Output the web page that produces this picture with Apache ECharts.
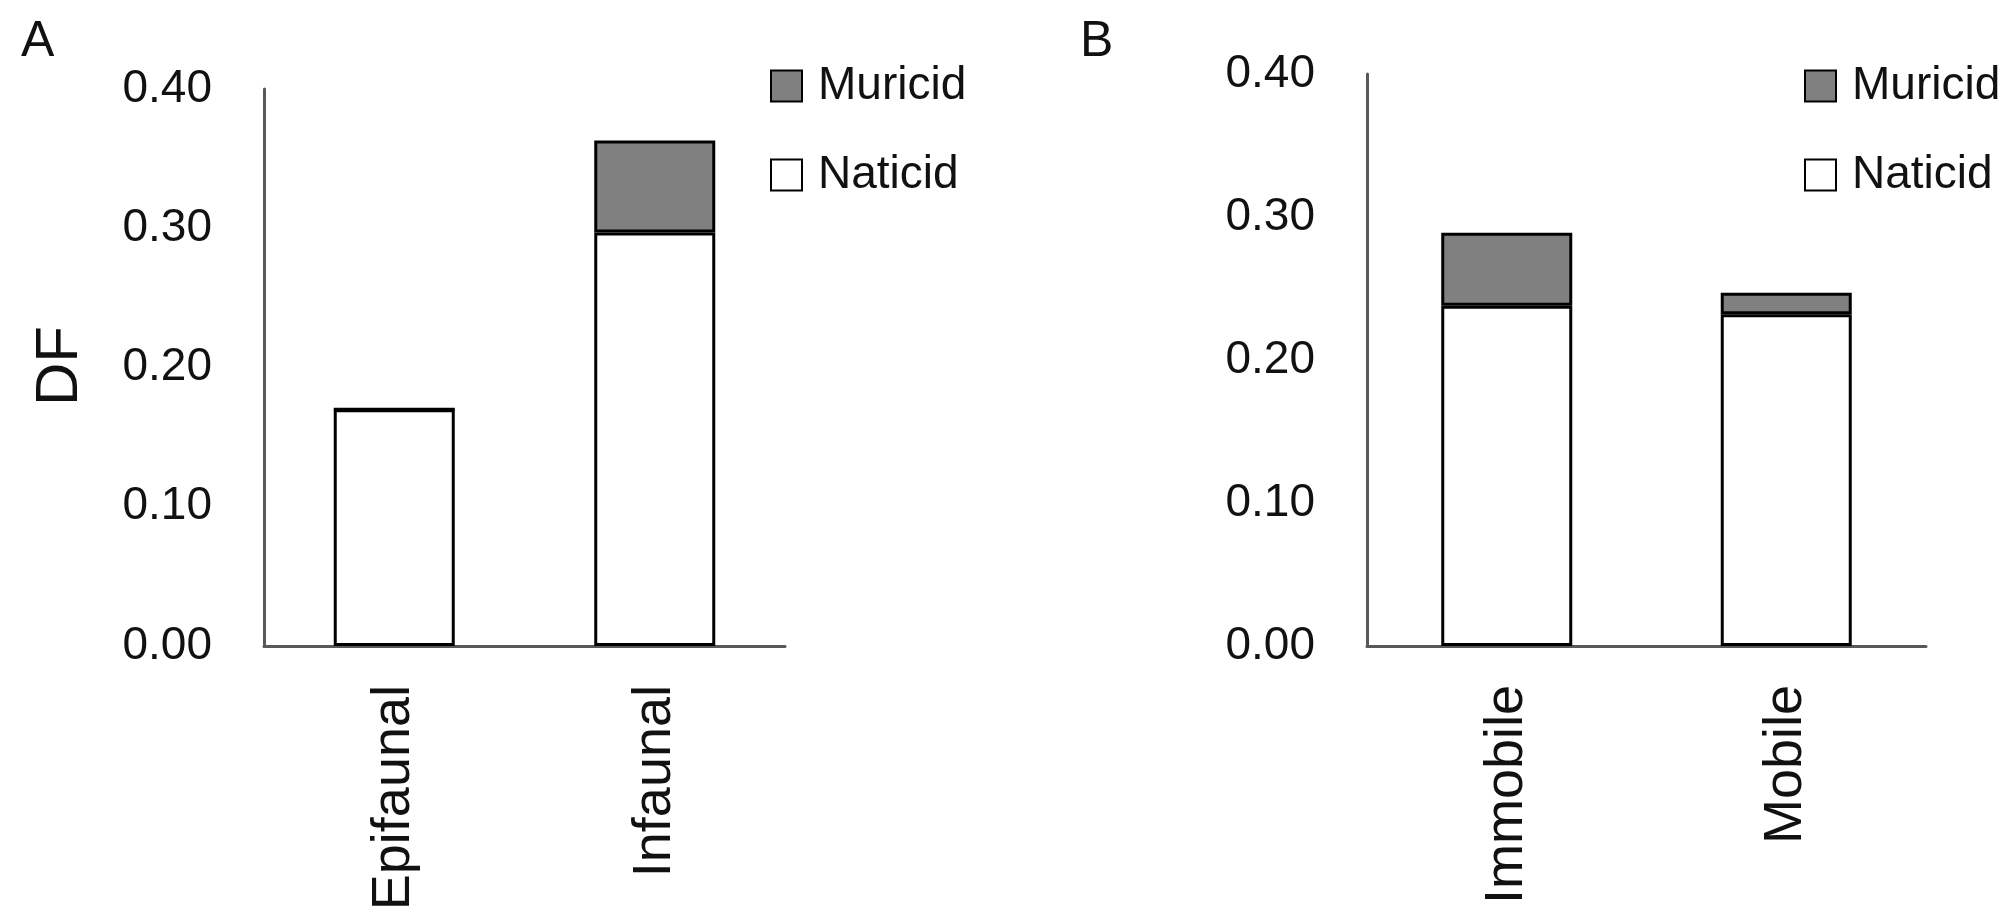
<!DOCTYPE html>
<html>
<head>
<meta charset="utf-8">
<title>Drilling frequency by life habit and mobility</title>
<script src="https://cdn.jsdelivr.net/npm/echarts@6/dist/echarts.min.js"></script>
<style>
  html, body { margin: 0; padding: 0; background: #ffffff; }
  #chart { width: 2009px; height: 914px; }
</style>
</head>
<body>
<div id="chart"></div>
<script>
// Panel A: life habit
const categoriesA = ['Epifaunal', 'Infaunal'];
const naticidA = [0.170, 0.297];
const muricidA = [0, 0.066];

// Panel B: mobility
const categoriesB = ['Immobile', 'Mobile'];
const naticidB = [0.238, 0.232];
const muricidB = [0.051, 0.015];

// Shared value axis
const yMin = 0;
const yMax = 0.4;
const yStep = 0.1;

const FONT = '"Liberation Sans", Arial, sans-serif';
const TEXT = '#111111';
const AXIS = '#595959';

const chart = echarts.init(document.getElementById('chart'), null, { renderer: 'canvas' });

function valueAxis(gridIndex) {
  return {
    type: 'value', gridIndex: gridIndex,
    min: yMin, max: yMax, interval: yStep,
    axisLine: { show: true, lineStyle: { color: AXIS, width: 3 } },
    axisTick: { show: false },
    splitLine: { show: false },
    axisLabel: {
      margin: 52, fontSize: 46, color: TEXT, fontFamily: FONT,
      formatter: v => v.toFixed(2)
    }
  };
}

function categoryAxis(gridIndex, cats) {
  return {
    type: 'category', gridIndex: gridIndex, data: cats,
    axisLine: { show: true, lineStyle: { color: AXIS, width: 3 } },
    axisTick: { show: false },
    axisLabel: {
      rotate: 90, margin: 39, fontSize: 54, color: TEXT, fontFamily: FONT,
      interval: 0
    }
  };
}

function barSeries(name, data, idx, fill, width) {
  return {
    name: name, type: 'bar', stack: 'df' + idx,
    xAxisIndex: idx, yAxisIndex: idx,
    data: data, barWidth: width,
    itemStyle: { color: fill, borderColor: '#000000', borderWidth: 3 },
    emphasis: { disabled: true }
  };
}

function legendAt(left) {
  return {
    left: left, top: 58, orient: 'vertical',
    data: ['Muricid', 'Naticid'],
    icon: 'rect', itemWidth: 31, itemHeight: 31, itemGap: 43,
    selectedMode: false,
    textStyle: { fontSize: 46, color: TEXT, fontFamily: FONT, padding: [0, 0, 0, 11] }
  };
}

chart.setOption({
  backgroundColor: '#ffffff',
  animation: false,
  title: [
    { text: 'A', left: 16, top: 12, textStyle: { fontSize: 50, fontWeight: 'normal', color: TEXT, fontFamily: FONT } },
    { text: 'B', left: 1075, top: 12, textStyle: { fontSize: 50, fontWeight: 'normal', color: TEXT, fontFamily: FONT } }
  ],
  graphic: [{
    type: 'text', x: 60, y: 366, rotation: Math.PI / 2,
    style: { text: 'DF', fontSize: 60, fill: TEXT, font: '60px ' + FONT, align: 'center', verticalAlign: 'middle' }
  }],
  legend: [legendAt(765), legendAt(1799)],
  grid: [
    { left: 264, top: 89, width: 521, height: 557 },
    { left: 1367, top: 74, width: 559, height: 572 }
  ],
  xAxis: [categoryAxis(0, categoriesA), categoryAxis(1, categoriesB)],
  yAxis: [valueAxis(0), valueAxis(1)],
  series: [
    barSeries('Naticid', naticidA, 0, '#ffffff', 121),
    barSeries('Muricid', muricidA, 0, '#808080', 121),
    barSeries('Naticid', naticidB, 1, '#ffffff', 131),
    barSeries('Muricid', muricidB, 1, '#808080', 131)
  ]
});
</script>
</body>
</html>
